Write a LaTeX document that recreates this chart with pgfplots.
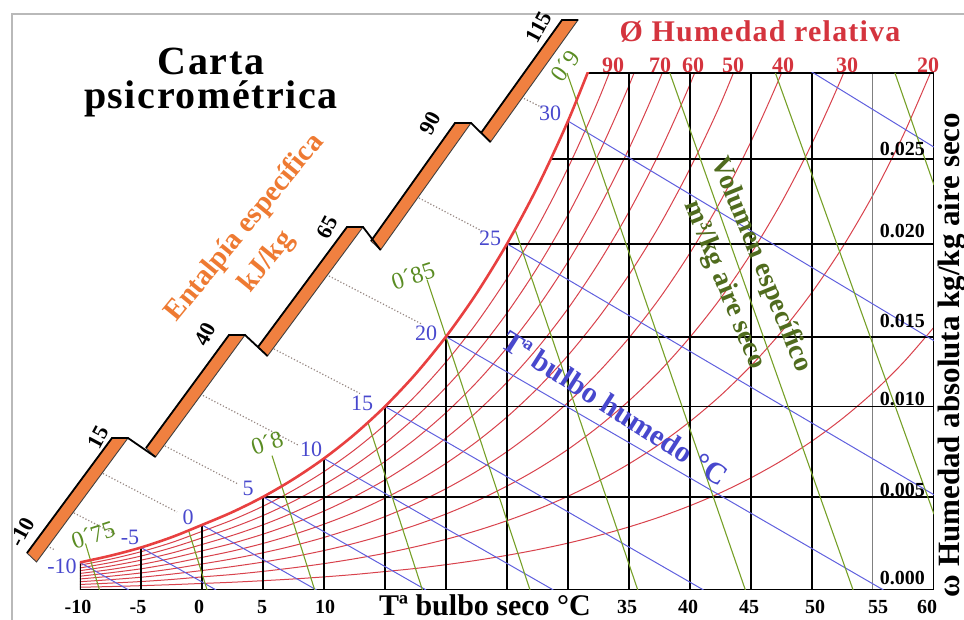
\documentclass[border=0pt]{standalone}
\usepackage{fontspec}
\setmainfont{Liberation Serif}
\usepackage{pgfplots}
\pgfplotsset{compat=1.18}
\usetikzlibrary{calc}

\definecolor{rhred}{RGB}{216,66,76}
\definecolor{satred}{RGB}{232,64,64}
\definecolor{wbblue}{RGB}{96,96,222}
\definecolor{wblabel}{RGB}{72,72,205}
\definecolor{vgreen}{RGB}{118,160,40}
\definecolor{vlabel}{RGB}{90,140,35}
\definecolor{vtext}{RGB}{80,108,30}
\definecolor{hband}{RGB}{240,128,64}
\definecolor{htext}{RGB}{238,122,50}
\definecolor{rhlabel}{RGB}{212,52,62}
\definecolor{dotgray}{RGB}{150,135,130}

\begin{document}
\begin{tikzpicture}
\begin{axis}[
  scale only axis, width=427pt, height=258.5pt,
  xmin=-10, xmax=60, ymin=0, ymax=0.03,
  hide axis, clip mode=individual,
  rh/.style={rhred, line width=0.5pt, smooth},
  wb/.style={wbblue, line width=0.5pt},
  sv/.style={vgreen, line width=0.55pt},
  grid line/.style={black, line width=0.85pt},
]
% ---- relative humidity curves, W = phi * Ws(T) ----
\addplot[rh] coordinates {(-10,0.00016) (-7.5,0.00020) (-5,0.00025) (-2.5,0.00031) (0,0.00038) (2.5,0.00045) (5,0.00054) (7.5,0.00064) (10,0.00076) (12.5,0.00090) (15,0.00107) (17.5,0.00125) (20,0.00147) (22.5,0.00172) (25,0.00201) (27.5,0.00234) (30,0.00272) (32.5,0.00316) (35,0.00366) (37.5,0.00423) (40,0.00489) (42.5,0.00564) (45,0.00651) (47.5,0.00750) (50,0.00864) (52.5,0.00995) (55,0.01146) (57.5,0.01321) (60,0.01525)};
\addplot[rh] coordinates {(-10,0.00032) (-7.5,0.00040) (-5,0.00049) (-2.5,0.00061) (0,0.00076) (2.5,0.00090) (5,0.00108) (7.5,0.00129) (10,0.00153) (12.5,0.00181) (15,0.00213) (17.5,0.00251) (20,0.00294) (22.5,0.00344) (25,0.00402) (27.5,0.00468) (30,0.00544) (32.5,0.00632) (35,0.00732) (37.5,0.00846) (40,0.00978) (42.5,0.01128) (45,0.01301) (47.5,0.01499) (50,0.01727) (52.5,0.01989) (55,0.02292) (57.5,0.02642) (60,0.03049)};
\addplot[rh] coordinates {(-10,0.00048) (-7.5,0.00060) (-5,0.00074) (-2.5,0.00092) (0,0.00113) (2.5,0.00136) (5,0.00162) (7.5,0.00193) (10,0.00229) (12.5,0.00271) (15,0.00320) (17.5,0.00376) (20,0.00441) (22.5,0.00516) (25,0.00603) (27.5,0.00702) (30,0.00816) (32.5,0.00948) (35,0.01098) (37.5,0.01269) (40,0.01467) (42.5,0.01692) (45,0.01952) (47.5,0.02249) (50,0.02591) (52.5,0.02984) (55,0.03438)};
\addplot[rh] coordinates {(-10,0.00064) (-7.5,0.00080) (-5,0.00099) (-2.5,0.00122) (0,0.00151) (2.5,0.00181) (5,0.00216) (7.5,0.00257) (10,0.00305) (12.5,0.00361) (15,0.00426) (17.5,0.00501) (20,0.00588) (22.5,0.00688) (25,0.00803) (27.5,0.00936) (30,0.01088) (32.5,0.01264) (35,0.01463) (37.5,0.01692) (40,0.01956) (42.5,0.02256) (45,0.02602) (47.5,0.02999) (50,0.03454)};
\addplot[rh] coordinates {(-10,0.00080) (-7.5,0.00100) (-5,0.00123) (-2.5,0.00153) (0,0.00189) (2.5,0.00226) (5,0.00270) (7.5,0.00322) (10,0.00382) (12.5,0.00451) (15,0.00533) (17.5,0.00626) (20,0.00735) (22.5,0.00860) (25,0.01004) (27.5,0.01170) (30,0.01361) (32.5,0.01580) (35,0.01829) (37.5,0.02115) (40,0.02445) (42.5,0.02820) (45,0.03253)};
\addplot[rh] coordinates {(-10,0.00096) (-7.5,0.00119) (-5,0.00148) (-2.5,0.00184) (0,0.00227) (2.5,0.00271) (5,0.00324) (7.5,0.00386) (10,0.00458) (12.5,0.00542) (15,0.00639) (17.5,0.00752) (20,0.00882) (22.5,0.01032) (25,0.01205) (27.5,0.01404) (30,0.01633) (32.5,0.01896) (35,0.02195) (37.5,0.02538) (40,0.02934) (42.5,0.03384)};
\addplot[rh] coordinates {(-10,0.00112) (-7.5,0.00139) (-5,0.00173) (-2.5,0.00214) (0,0.00264) (2.5,0.00317) (5,0.00378) (7.5,0.00450) (10,0.00534) (12.5,0.00632) (15,0.00746) (17.5,0.00877) (20,0.01029) (22.5,0.01204) (25,0.01406) (27.5,0.01638) (30,0.01905) (32.5,0.02212) (35,0.02561) (37.5,0.02961) (40,0.03423)};
\addplot[rh] coordinates {(-10,0.00128) (-7.5,0.00159) (-5,0.00197) (-2.5,0.00245) (0,0.00302) (2.5,0.00362) (5,0.00432) (7.5,0.00515) (10,0.00611) (12.5,0.00722) (15,0.00852) (17.5,0.01002) (20,0.01176) (22.5,0.01376) (25,0.01607) (27.5,0.01872) (30,0.02177) (32.5,0.02528) (35,0.02927) (37.5,0.03384)};
\addplot[rh] coordinates {(-10,0.00144) (-7.5,0.00179) (-5,0.00222) (-2.5,0.00275) (0,0.00340) (2.5,0.00407) (5,0.00486) (7.5,0.00579) (10,0.00687) (12.5,0.00813) (15,0.00959) (17.5,0.01127) (20,0.01323) (22.5,0.01548) (25,0.01808) (27.5,0.02106) (30,0.02449) (32.5,0.02844) (35,0.03293)};

% ---- grid: dry-bulb verticals up to saturation, humidity horizontals from saturation ----
\addplot[grid line] coordinates {(-10,0) (-10,0.00160)};
\addplot[grid line] coordinates {(-5,0) (-5,0.002465)};
\addplot[grid line] coordinates {(0,0) (0,0.003775)};
\addplot[grid line] coordinates {(5,0) (5,0.005403)};
\addplot[grid line] coordinates {(10,0) (10,0.007632)};
\addplot[grid line] coordinates {(15,0) (15,0.010650)};
\addplot[grid line] coordinates {(20,0) (20,0.014699)};
\addplot[grid line] coordinates {(25,0) (25,0.020087)};
\addplot[grid line] coordinates {(30,0) (30,0.027211)};
\addplot[grid line] coordinates {(35,0) (35,0.03)};
\addplot[grid line] coordinates {(40,0) (40,0.03)};
\addplot[grid line] coordinates {(45,0) (45,0.03)};
\addplot[grid line] coordinates {(50,0) (50,0.03)};
\addplot[gray, line width=0.5pt] coordinates {(55,0) (55,0.03)};
\addplot[grid line] coordinates {(5,0.005403) (60,0.005403)};
\addplot[grid line] coordinates {(15,0.010650) (60,0.010650)};
\addplot[grid line] coordinates {(20,0.014699) (60,0.014699)};
\addplot[grid line] coordinates {(25,0.020087) (60,0.020087)};
\addplot[grid line] coordinates {(28.55,0.025) (60,0.025)};
% frame
\addplot[black, line width=1.1pt] coordinates {(-10,0) (60,0) (60,0.03) (31.63,0.03)};

% ---- wet-bulb lines ----
\addplot[wb] coordinates {(-10,0.00160) (-6.0,0)};
\addplot[wb] coordinates {(-5,0.002465) (1.16,0)};
\addplot[wb] coordinates {(0,0.003775) (9.39,0)};
\addplot[wb] coordinates {(5,0.005403) (18.37,0)};
\addplot[wb] coordinates {(10,0.007632) (28.80,0)};
\addplot[wb] coordinates {(15,0.010650) (41.11,0)};
\addplot[wb] coordinates {(20,0.014699) (55.86,0)};
\addplot[wb] coordinates {(25,0.020087) (60,0.005526)};
\addplot[wb] coordinates {(30,0.027211) (60,0.014465)};
\addplot[wb] coordinates {(35,0.036587) (60,0.025699)};

% ---- specific volume lines ----
\addplot[sv] coordinates {(-9.55,0.0027) (-8.40,0)};
\addplot[sv] coordinates {(-1.09,0.00343) (0.42,0)};
\addplot[sv] coordinates {(5.74,0.0078) (9.24,0)};
\addplot[sv] coordinates {(13.6,0.00973) (18.07,0)};
\addplot[sv] coordinates {(18.45,0.0180) (26.89,0)};
\addplot[sv] coordinates {(25.65,0.02094) (35.72,0)};
\addplot[sv] coordinates {(29.92,0.030) (44.54,0)};
\addplot[sv] coordinates {(38.35,0.030) (53.37,0)};
\addplot[sv] coordinates {(47.0,0.030) (60,0.0044)};
\addplot[sv] coordinates {(56.8,0.030) (60,0.0235)};

% ---- saturation curve ----
\addplot[satred, line width=1.3pt, smooth] coordinates {(-10,0.00160) (-7.5,0.00199) (-5,0.002465) (-2.5,0.00306) (0,0.003775) (2.5,0.004524) (5,0.005403) (7.5,0.006435) (10,0.007632) (12.5,0.009029) (15,0.010650) (17.5,0.012527) (20,0.014699) (22.5,0.017203) (25,0.020087) (27.5,0.023397) (30,0.027211) (32.5,0.031596)};

\coordinate (O) at (axis cs:-16.5574,0.034236);
\end{axis}

% ---- annotations, in a pixel-like frame anchored at the top-left corner ----
\begin{scope}[shift={(O)}, x=0.5pt, y=-0.5pt]
  \draw[gray!55, line width=0.6pt] (12,620) -- (12,14) -- (964,14);

  % enthalpy lines to the scale
  \begin{scope}[dotgray, densely dotted, line width=0.6pt]
    \draw (47,546) -- (55,550);
    \draw (74,513) -- (116,534.5);
    \draw (103,473.5) -- (177,512);
    \draw (165,446) -- (238,484);
    \draw (203,395.5) -- (299,445.5);
    \draw (274,349) -- (360,393.5);
    \draw (329,276) -- (421,323.7);
    \draw (419,198) -- (482,231);
    \draw (524,98.5) -- (543,108);
  \end{scope}

  % stepped enthalpy scale
  \begin{scope}[line join=miter]
    \foreach \bx/\by/\ax/\ay in {27/553/112/438, 146/448/229/335, 258/347/347/227, 371/241/455/123, 481/133/562/20}{
      \filldraw[fill=hband, draw=black!75, line width=0.45pt]
        (\bx,\by) -- (\ax,\ay) -- ++(16,0) -- ($(\bx,\by)+(9.5,9)$) -- cycle;
    }
    \draw[black, line width=0.9pt] (27,553) -- (112,438) -- (128,438) -- (155.5,457);
    \draw[black, line width=0.9pt] (146,448) -- (229,335) -- (245,335) -- (267.5,356);
    \draw[black, line width=0.9pt] (258,347) -- (347,227) -- (363,227) -- (380.5,250);
    \draw[black, line width=0.9pt] (371,241) -- (455,123) -- (471,123) -- (490.5,142);
    \draw[black, line width=0.9pt] (481,133) -- (562,20) -- (578,20);
  \end{scope}
  \begin{scope}[font=\fontsize{11}{12}\selectfont\bfseries]
    \node[rotate=62] at (22,532) {-10};
    \node[rotate=62] at (98,437) {15};
    \node[rotate=62] at (205,334) {40};
    \node[rotate=62] at (327,227) {65};
    \node[rotate=62] at (430,123) {90};
    \node[rotate=62] at (539,27) {115};
  \end{scope}
  \node[htext, rotate=50.7, font=\fontsize{14.5}{16}\selectfont\bfseries] at (245,228) {Entalpía específica};
  \node[htext, rotate=50.7, font=\fontsize{14.5}{16}\selectfont\bfseries] at (267,262) {kJ/kg};

  % title
  \node[font=\fontsize{20}{22}\selectfont\bfseries\addfontfeatures{LetterSpace=4}] at (211,61) {Carta};
  \node[font=\fontsize{20}{22}\selectfont\bfseries\addfontfeatures{LetterSpace=4}] at (211,99) {psicrométrica};

  % relative humidity
  \node[rhlabel, font=\fontsize{15}{16}\selectfont\bfseries\addfontfeatures{LetterSpace=4}] at (760,32) {Ø Humedad relativa};
  \begin{scope}[rhlabel, font=\fontsize{11}{12}\selectfont\bfseries]
    \node at (613,65) {90};
    \node at (660,65) {70};
    \node at (693,65) {60};
    \node at (733,65) {50};
    \node at (783,65) {40};
    \node at (847,65) {30};
    \node at (928,65) {20};
  \end{scope}

  % wet-bulb labels
  \begin{scope}[wblabel, font=\fontsize{11}{12}\selectfont]
    \node at (62,566) {-10};
    \node at (130,537) {-5};
    \node at (188,517) {0};
    \node at (248,488) {5};
    \node at (311,449) {10};
    \node at (362,403) {15};
    \node at (426,333) {20};
    \node at (490,238) {25};
    \node at (550,113) {30};
  \end{scope}
  \node[wblabel, rotate=-32.6, font=\fontsize{15}{16}\selectfont\bfseries] at (615,408) {Tª bulbo humedo °C};

  % specific volume labels
  \begin{scope}[vlabel, font=\fontsize{12}{13}\selectfont]
    \node[rotate=18] at (93,535) {0´75};
    \node[rotate=18] at (267,443) {0´8};
    \node[rotate=18] at (413,276) {0´85};
    \node[rotate=55] at (565,66) {0´9};
  \end{scope}
  \node[vtext, rotate=-68, font=\fontsize{14}{15}\selectfont\bfseries] at (761,265) {Volumen específico};
  \node[vtext, rotate=-68, font=\fontsize{14}{15}\selectfont\bfseries] at (724,285) {m³/kg aire seco};

  % humidity ratio ticks
  \begin{scope}[font=\fontsize{10}{11}\selectfont\bfseries]
    \node[anchor=east] at (932,578) {0.000};
    \node[anchor=east] at (932,490) {0.005};
    \node[anchor=east] at (932,399) {0.010};
    \node[anchor=east] at (932,321) {0.015};
    \node[anchor=east] at (932,231) {0.020};
    \node[anchor=east] at (932,149) {0.025};
  \end{scope}
  \node[rotate=90, font=\fontsize{15.5}{17}\selectfont\bfseries] at (952,355) {ω Humedad absoluta kg/kg aire seco};

  % dry-bulb ticks
  \begin{scope}[font=\fontsize{10}{11}\selectfont\bfseries]
    \node at (78,607) {-10};
    \node at (138,607) {-5};
    \node at (199,607) {0};
    \node at (262,607) {5};
    \node at (325,607) {10};
    \node at (627,607) {35};
    \node at (688,607) {40};
    \node at (749,607) {45};
    \node at (815,607) {50};
    \node at (878,607) {55};
    \node at (927,607) {60};
  \end{scope}
  \node[font=\fontsize{15}{16}\selectfont\bfseries] at (485,605) {Tª bulbo seco °C};
\end{scope}

\pgfresetboundingbox
\path[use as bounding box] (O) rectangle ++(482pt,-310pt);
\end{tikzpicture}
\end{document}
